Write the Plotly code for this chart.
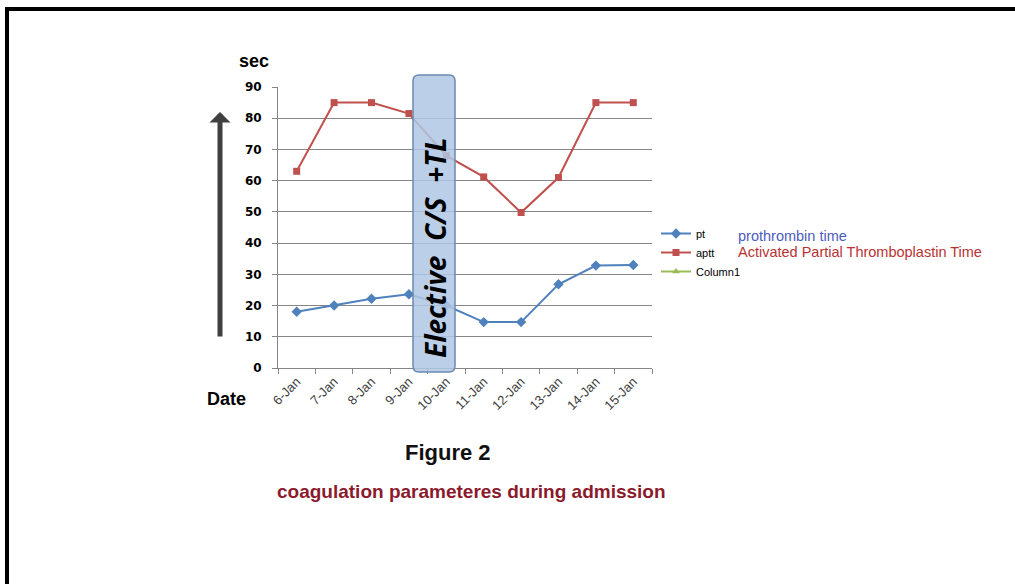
import plotly.graph_objects as go

dates = ["6-Jan", "7-Jan", "8-Jan", "9-Jan", "10-Jan", "11-Jan", "12-Jan", "13-Jan", "14-Jan", "15-Jan"]
pt = [18, 20, 22.2, 23.6, 20, 14.7, 14.7, 26.8, 32.8, 33]
aptt = [63, 85, 85, 81.5, 68, 61.2, 49.8, 61, 85, 85]
column1 = [None] * len(dates)
y_ticks = [0, 10, 20, 30, 40, 50, 60, 70, 80, 90]

W, H = 1015, 584
L, R, T, B = 278, 652, 87, 368


def px(x):
    return (x - L) / (R - L)


def py(y):
    return (B - y) / (B - T)


fig = go.Figure()
fig.add_trace(go.Scatter(x=dates, y=pt, name="pt", mode="lines+markers",
                         line=dict(color="#4f81bd", width=2),
                         marker=dict(symbol="diamond", size=8, color="#4f81bd")))
fig.add_trace(go.Scatter(x=dates, y=aptt, name="aptt", mode="lines+markers",
                         line=dict(color="#c0504d", width=2),
                         marker=dict(symbol="square", size=7, color="#c0504d")))
fig.add_trace(go.Scatter(x=dates, y=column1, name="Column1", mode="lines+markers",
                         line=dict(color="#9bbb59", width=2),
                         marker=dict(symbol="triangle-up", size=7, color="#9bbb59")))

# rounded band
x0, x1, y0, y1, r = 413, 455, 75, 372, 6
path = (f"M {px(x0+r)},{py(y0)} L {px(x1-r)},{py(y0)} Q {px(x1)},{py(y0)} {px(x1)},{py(y0+r)} "
        f"L {px(x1)},{py(y1-r)} Q {px(x1)},{py(y1)} {px(x1-r)},{py(y1)} "
        f"L {px(x0+r)},{py(y1)} Q {px(x0)},{py(y1)} {px(x0)},{py(y1-r)} "
        f"L {px(x0)},{py(y0+r)} Q {px(x0)},{py(y0)} {px(x0+r)},{py(y0)} Z")
shapes = [
    dict(type="path", xref="paper", yref="paper", path=path,
         fillcolor="rgba(176,199,228,0.85)", line=dict(color="#6a8ab0", width=1.5), layer="above"),
    # frame
    dict(type="line", xref="paper", yref="paper", x0=px(5), x1=px(1030), y0=py(9), y1=py(9),
         line=dict(color="black", width=4)),
    dict(type="line", xref="paper", yref="paper", x0=px(7), x1=px(7), y0=py(7), y1=py(600),
         line=dict(color="black", width=4)),
]


def label(x, y, text, size, color, family="Liberation Sans", xanchor="center", angle=0):
    return dict(x=px(x), y=py(y), xref="paper", yref="paper", text=text, showarrow=False,
                xanchor=xanchor, yanchor="middle", textangle=angle,
                font=dict(family=family, size=size, color=color))


ann = [
    label(435, 248, "<b><i>Elective&nbsp; C/S&nbsp; +TL</i></b>", 28, "black", family="Open Sans", angle=-90),
    dict(x=px(220), y=py(112), xref="paper", yref="paper", text="", showarrow=True,
         ax=0, ay=226, axref="pixel", ayref="pixel", arrowhead=1, arrowsize=0.7,
         arrowwidth=5, arrowcolor="#404040"),
    label(254, 61, "<b>sec</b>", 18, "black"),
    label(226, 399, "<b>Date</b>", 18, "black"),
    label(736, 236, "prothrombin time", 14.5, "#4b5cc0", xanchor="left"),
    label(736, 252, "Activated Partial Thromboplastin Time", 14.5, "#b83232", xanchor="left"),
    label(448, 452, "<b>Figure 2</b>", 22, "#111111"),
    label(471, 491, "<b>coagulation parameteres during admission</b>", 19, "#8b1a2c"),
]

fig.update_layout(
    width=W, height=H,
    margin=dict(l=L, r=W - R, t=T, b=H - B, pad=0),
    paper_bgcolor="white", plot_bgcolor="white",
    shapes=shapes, annotations=ann,
    showlegend=True,
    legend=dict(x=px(656), y=py(219), xanchor="left", yanchor="top", bgcolor="rgba(0,0,0,0)",
                font=dict(family="Liberation Sans", size=11, color="black"), itemwidth=30,
                tracegroupgap=0),
    xaxis=dict(type="category", showgrid=False, showline=True, linecolor="#868686", linewidth=1,
               ticks="outside", tickson="boundaries", ticklen=5, tickcolor="#868686",
               tickangle=-45, tickfont=dict(family="Liberation Sans", size=13, color="#404040"),
               range=[-0.5, 9.5], fixedrange=True),
    yaxis=dict(range=[0, 90], tickvals=y_ticks, showgrid=True, gridcolor="#868686", gridwidth=1,
               showline=True, linecolor="#868686", linewidth=1, ticks="outside", ticklen=5,
               tickcolor="#868686", ticklabelstandoff=8, zeroline=False,
               tickfont=dict(family="DejaVu Sans", size=12, color="black", weight="bold")),
)

fig.write_html("out.html", config={"displayModeBar": False},
               post_script="document.body.style.margin='0';")
